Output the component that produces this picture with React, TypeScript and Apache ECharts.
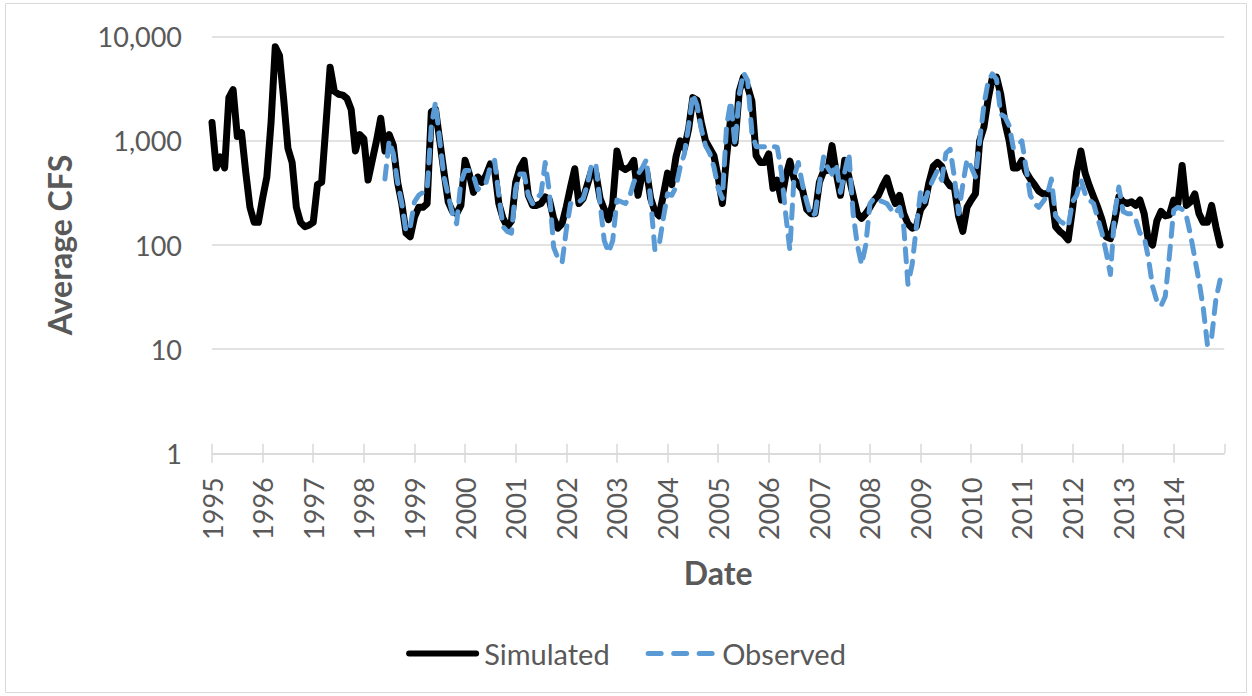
import React, { useEffect, useRef } from "react";
import * as echarts from "echarts";

// Monthly average flow (CFS), January 1995 to December 2014
const yearLabels = [
  "1995", "1996", "1997", "1998", "1999", "2000", "2001", "2002", "2003", "2004",
  "2005", "2006", "2007", "2008", "2009", "2010", "2011", "2012", "2013", "2014",
];

const simulated = [
  1500, 550, 700, 550, 2600, 3100, 1100, 1200, 500, 230, 165, 165, // 1995
  280, 450, 1500, 8000, 6600, 2500, 850, 620, 230, 165, 150, 155, // 1996
  165, 380, 400, 1400, 5100, 3000, 2800, 2750, 2550, 2000, 800, 1150, // 1997
  1050, 420, 650, 1000, 1650, 800, 1150, 900, 400, 250, 130, 120, // 1998
  185, 230, 230, 250, 1900, 2000, 1000, 500, 260, 210, 200, 240, // 1999
  650, 480, 320, 450, 400, 470, 600, 530, 250, 180, 150, 170, // 2000
  400, 550, 650, 300, 240, 240, 250, 290, 270, 180, 145, 160, // 2001
  233, 360, 540, 250, 280, 380, 520, 490, 280, 220, 175, 250, // 2002
  800, 560, 530, 560, 650, 300, 480, 520, 280, 210, 190, 300, // 2003
  490, 380, 700, 1000, 850, 1300, 2600, 2450, 1500, 1000, 850, 720, // 2004
  450, 250, 700, 1700, 950, 3000, 4100, 3300, 2400, 720, 620, 620, // 2005
  750, 350, 420, 270, 450, 640, 430, 380, 340, 220, 200, 200, // 2006
  400, 510, 520, 900, 490, 300, 650, 450, 300, 200, 180, 200, // 2007
  230, 270, 300, 370, 440, 320, 250, 300, 200, 160, 145, 150, // 2008
  220, 250, 400, 570, 620, 570, 420, 370, 360, 190, 135, 230, // 2009
  270, 310, 1000, 1350, 2500, 4000, 4100, 2800, 1500, 1000, 550, 550, // 2010
  650, 500, 430, 380, 330, 310, 310, 310, 150, 135, 125, 112, // 2011
  220, 500, 800, 490, 370, 290, 230, 175, 120, 115, 170, 290, // 2012
  260, 250, 260, 240, 270, 200, 110, 100, 170, 210, 190, 195, // 2013
  270, 250, 580, 240, 260, 310, 200, 165, 165, 240, 150, 100, // 2014
];

// Observed record begins in June 1998 (month index 41)
const observedStartMonth = 41;
const observed = [
  430, 1000, 750, 400, 250, 135, 150, // 1998 (Jun-Dec)
  260, 300, 320, 340, 1400, 2350, 1000, 450, 300, 200, 160, 400, // 1999
  520, 520, 460, 340, 380, 400, 570, 650, 300, 150, 135, 130, // 2000
  350, 480, 480, 300, 250, 280, 310, 620, 320, 95, 75, 68, // 2001
  140, 250, 250, 260, 280, 380, 600, 600, 250, 110, 85, 110, // 2002
  270, 260, 250, 290, 400, 480, 550, 660, 270, 90, 100, 180, // 2003
  310, 300, 360, 560, 750, 1400, 2800, 2200, 1300, 900, 760, 560, // 2004
  350, 280, 1400, 2400, 900, 2800, 4500, 3800, 1200, 880, 880, 880, // 2005
  880, 880, 870, 500, 200, 90, 450, 620, 380, 260, 190, 200, // 2006
  380, 700, 550, 480, 600, 320, 500, 760, 200, 100, 65, 100, // 2007
  250, 280, 270, 260, 250, 220, 200, 230, 150, 42, 65, 150, // 2008
  330, 260, 350, 430, 520, 420, 760, 830, 450, 200, 380, 660, // 2009
  560, 450, 1000, 2200, 3700, 4400, 3900, 1800, 1700, 1400, 850, 900, // 2010
  1000, 550, 300, 250, 230, 260, 300, 430, 190, 170, 160, 150, // 2011
  260, 300, 420, 310, 270, 250, 180, 130, 85, 52, 200, 360, // 2012
  210, 200, 200, 175, 130, 120, 75, 40, 29, 26, 32, 80, // 2013
  215, 230, 220, 190, 125, 75, 45, 25, 11, 13, 30, 46, // 2014
];

const FONT = "Lato, 'Open Sans', 'DejaVu Sans', sans-serif";
const TEXT = "#595959";
const GRID = "#D9D9D9";
const SIM_COLOR = "#000000";
const OBS_COLOR = "#5B9BD5";

// Legend glyphs: a thick rounded bar and three rounded dashes
const SOLID_ICON = "path://M3,0h67a3,3 0 0 1 0,6h-67a3,3 0 0 1 0,-6z";
const DASH_ICON =
  "path://M2.5,0.5h13a2.5,2.5 0 0 1 0,5h-13a2.5,2.5 0 0 1 0,-5z" +
  "M28,0.5h13a2.5,2.5 0 0 1 0,5h-13a2.5,2.5 0 0 1 0,-5z" +
  "M53.5,0.5h13a2.5,2.5 0 0 1 0,5h-13a2.5,2.5 0 0 1 0,-5z" +
  "M70,0h0.01v6h-0.01z";

export default function App() {
  const ref = useRef<HTMLDivElement>(null);

  useEffect(() => {
    if (!ref.current) return;
    const chart = echarts.init(ref.current, null, { renderer: "svg" });
    const simData = simulated.map((v, i) => [i, v]);
    const obsData = observed.map((v, i) => [i + observedStartMonth, v]);

    chart.setOption({
      animation: false,
      backgroundColor: "#ffffff",
      textStyle: { fontFamily: FONT },
      graphic: [
        {
          type: "rect",
          silent: true,
          z: -10,
          shape: { x: 5.5, y: 3.5, width: 1241, height: 689 },
          style: { fill: "none", stroke: GRID, lineWidth: 1 },
        },
      ],
      grid: { left: 212, right: 27.7, top: 36.7, bottom: 242.7 },
      legend: {
        left: "center",
        top: 634,
        itemWidth: 73,
        itemHeight: 6,
        itemGap: 36,
        textStyle: { color: TEXT, fontSize: 29, fontFamily: FONT },
        data: [
          { name: "Simulated", icon: SOLID_ICON, itemStyle: { color: SIM_COLOR, borderWidth: 0 } },
          { name: "Observed", icon: DASH_ICON, itemStyle: { color: OBS_COLOR, borderWidth: 0 } },
        ],
      },
      xAxis: [
        {
          type: "value",
          min: 0,
          max: 240,
          interval: 12,
          name: "Date",
          nameLocation: "middle",
          nameGap: 103,
          nameTextStyle: { color: TEXT, fontSize: 32, fontWeight: "bold", fontFamily: FONT },
          axisLine: { show: true, onZero: false, lineStyle: { color: GRID, width: 1.5 } },
          axisTick: { show: true, length: 9.5, lineStyle: { color: GRID, width: 1.5 } },
          axisLabel: {
            rotate: 90,
            margin: 24,
            fontSize: 27,
            color: TEXT,
            fontFamily: FONT,
            showMaxLabel: false,
            formatter: (v: number) => {
              const idx = Math.round(v / 12);
              return yearLabels[idx] ?? "";
            },
          },
          splitLine: { show: false },
        },
        {
          type: "value",
          min: 0,
          max: 240,
          interval: 12,
          position: "bottom",
          axisLine: { show: false },
          axisTick: { show: true, inside: true, length: 9.5, lineStyle: { color: GRID, width: 1.5 } },
          axisLabel: { show: false },
          splitLine: { show: false },
        },
      ],
      yAxis: {
        type: "log",
        logBase: 10,
        min: 1,
        max: 10000,
        name: "Average CFS",
        nameLocation: "middle",
        nameGap: 137,
        nameTextStyle: { color: TEXT, fontSize: 32, fontWeight: "bold", fontFamily: FONT },
        axisLine: { show: false },
        axisTick: { show: false },
        axisLabel: {
          margin: 30,
          fontSize: 27,
          color: TEXT,
          fontFamily: FONT,
          formatter: (v: number) => Math.round(v).toLocaleString("en-US"),
        },
        splitLine: { show: true, lineStyle: { color: GRID, width: 1.5 } },
      },
      series: [
        {
          name: "Simulated",
          type: "line",
          xAxisIndex: 0,
          data: simData,
          showSymbol: false,
          symbol: "none",
          color: SIM_COLOR,
          lineStyle: { color: SIM_COLOR, width: 7, cap: "round", join: "round" },
          z: 2,
        },
        {
          name: "Observed",
          type: "line",
          xAxisIndex: 0,
          data: obsData,
          showSymbol: false,
          symbol: "none",
          color: OBS_COLOR,
          lineStyle: { color: OBS_COLOR, width: 5, type: [13, 10], cap: "round", join: "round" },
          z: 3,
        },
      ],
    });

    return () => chart.dispose();
  }, []);

  return (
    <div
      ref={ref}
      style={{ position: "fixed", left: 0, top: 0, width: 1252, height: 696, background: "#fff" }}
    />
  );
}
